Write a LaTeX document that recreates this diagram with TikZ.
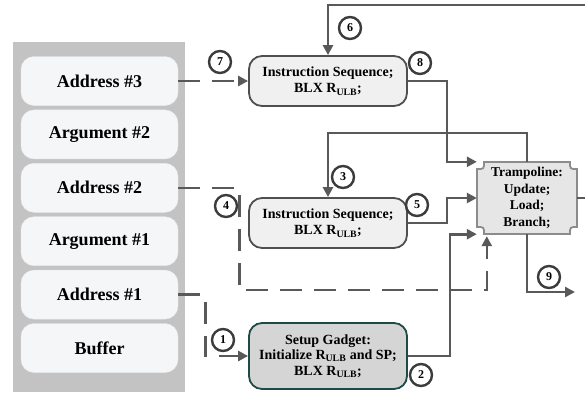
\documentclass[tikz,border=0pt]{standalone}
\usepackage{fontspec}
\setmainfont{Liberation Serif}
\usepackage{xcolor}
\usepackage{tikz}
\usetikzlibrary{arrows.meta,calc}

\definecolor{wirecol}{HTML}{595959}
\definecolor{tagcol}{HTML}{3C3C3C}
\definecolor{stackbg}{HTML}{C3C3C3}
\definecolor{slotfill}{HTML}{F5F6F8}
\definecolor{seqfill}{HTML}{F0F0F0}
\definecolor{seqline}{HTML}{4F4F4F}
\definecolor{setupfill}{HTML}{D5D5D5}
\definecolor{setupline}{HTML}{1F4A47}
\definecolor{trampfill}{HTML}{E6E6E6}
\definecolor{trampline}{HTML}{8C8C8C}

\newcommand{\Rulb}{R\textsubscript{ULB}}

\tikzset{
  slot/.style={rectangle, rounded corners=13pt, fill=slotfill, draw=slotfill!90!gray,
    minimum width=157pt, minimum height=49pt, inner sep=0pt,
    font=\bfseries\fontsize{18}{21}\selectfont},
  seqbox/.style={rectangle, rounded corners=13pt, fill=seqfill, draw=seqline, line width=1.8pt,
    minimum width=158pt, minimum height=50pt, inner sep=0pt, align=center,
    font=\bfseries\fontsize{14}{16.5}\selectfont},
  numtag/.style={circle, draw=tagcol, line width=2.4pt, fill=white, minimum size=22pt,
    inner sep=0pt, font=\bfseries\fontsize{12}{13}\selectfont},
  wire/.style={draw=wirecol, line width=2.6pt},
  ptr/.style={wire, dash pattern=on 22pt off 12pt},
  arr/.style={-{Triangle[length=10pt,width=10pt]}},
}

\begin{document}
\begin{tikzpicture}[x=1pt, y=-1pt]
  \useasboundingbox (0,0) rectangle (585,392);

  % Stack
  \fill[stackbg] (13,42) rectangle (185,392);
  \node[slot] (adr3) at (99.5,81)    {Address \#3};
  \node[slot] (arg2) at (99.5,134.4) {Argument \#2};
  \node[slot] (adr2) at (99.5,187.8) {Address \#2};
  \node[slot] (arg1) at (99.5,241.2) {Argument \#1};
  \node[slot] (adr1) at (99.5,294.6) {Address \#1};
  \node[slot] (buf)  at (99.5,348)   {Buffer};

  % Gadgets
  \node[seqbox] (seqa) at (328,81) {Instruction Sequence;\\BLX \Rulb;};
  \node[seqbox] (seqb) at (328,223) {Instruction Sequence;\\BLX \Rulb;};
  \node[seqbox, fill=setupfill, draw=setupline, minimum height=66pt,
        font=\bfseries\fontsize{14}{15.5}\selectfont] (setup) at (328,356)
        {Setup Gadget:\\Initialize \Rulb{} and SP;\\BLX \Rulb;};

  % Trampoline (concave corners)
  \draw[fill=trampfill, draw=trampline, line width=1.8pt]
    (484,162) -- (570,162) .. controls (570,169) .. (577,169)
    -- (577,227) .. controls (570,227) .. (570,234)
    -- (484,234) .. controls (484,227) .. (477,227)
    -- (477,169) .. controls (484,169) .. (484,162) -- cycle;
  \node[minimum width=100pt, minimum height=72pt, inner sep=0pt, align=center,
        font=\bfseries\fontsize{13.5}{16.7}\selectfont] (tramp) at (527,198)
        {Trampoline:\\Update;\\Load;\\Branch;};

  % Loose ends at the picture border
  \coordinate (outR) at (585,198);
  \coordinate (outT) at (585,5);
  \coordinate (exit) at (575,292);

  % Stack pointers (dashed)
  \draw[ptr, arr] (adr3.east) -- (seqa.west);
  \draw[ptr, arr] (adr2.east) -- ++(61,0) |- (315,290) -| ($(tramp.south west)+(10,2)$);
  \draw[ptr, arr] (adr1.east) -- ++(27,0) |- (setup.west);

  % Control flow
  \draw[wire, arr] (setup.east) -- ++(42,0) |- (tramp.south west);
  \draw[wire, arr] (seqb.east) -- ++(39,0) |- (tramp.west);
  \draw[wire, arr] (seqa.east) -- ++(39,0) |- (tramp.north west);
  \draw[wire, arr] (tramp.north) -- ++(0,-29) -| (seqb.north);
  \draw[wire] (tramp.east) -- (outR);
  \draw[wire, arr] (outT) -| (seqa.north);
  \draw[wire, arr] (tramp.south) |- (exit);

  % Step numbers
  \node[numtag] (n1) at (223,340) {1};
  \node[numtag] (n2) at (421,375) {2};
  \node[numtag] (n3) at (343,177) {3};
  \node[numtag] (n4) at (226,206) {4};
  \node[numtag] (n5) at (417,205) {5};
  \node[numtag] (n6) at (350,28)  {6};
  \node[numtag] (n7) at (220,62)  {7};
  \node[numtag] (n8) at (420,63)  {8};
  \node[numtag] (n9) at (549,277) {9};
\end{tikzpicture}
\end{document}
